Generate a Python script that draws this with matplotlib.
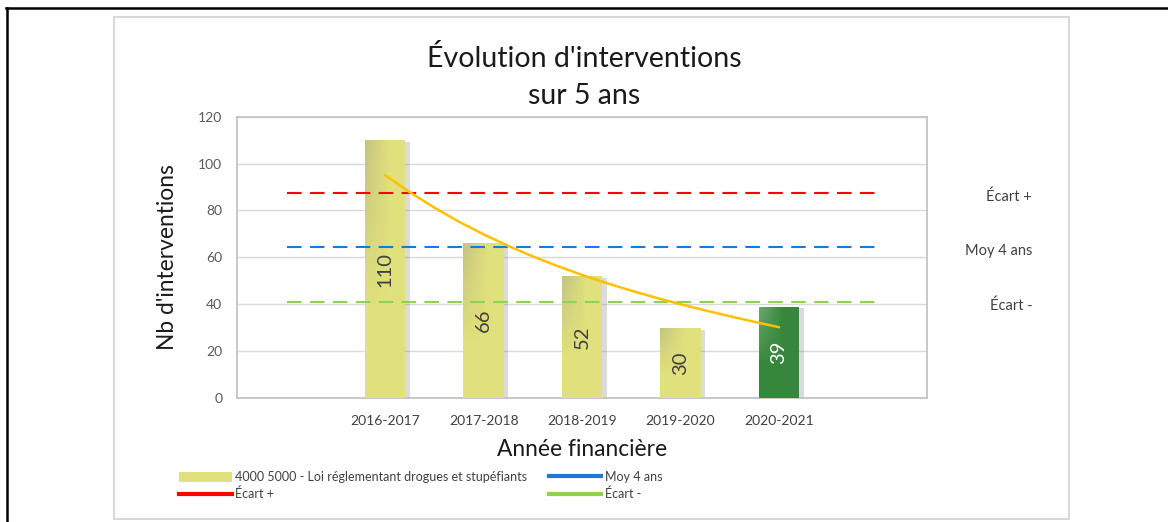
import matplotlib
matplotlib.use('Agg')
import matplotlib.pyplot as plt
import numpy as np
from matplotlib.patches import Rectangle, Patch
from matplotlib.lines import Line2D

plt.rcParams['font.family'] = ['Lato', 'DejaVu Sans']

# DONNEES
# -------
annees = ['', '2016-2017', '2017-2018', '2018-2019', '2019-2020', '2020-2021', '']
interventions = [110, 66, 52, 30, 39]
pos_barres = [1, 2, 3, 4, 5]
# valeurs de la courbe de tendance (pas de 0.25)
tendance_x = [1, 1.25, 1.5, 1.75, 2, 2.25, 2.5, 2.75, 3, 3.25, 3.5, 3.75, 4, 4.25, 4.5, 4.75, 5]
tendance_y = [95, 87.8, 81.2, 75.2, 69.8, 64.9, 60.4, 56.3, 52.5, 49.0, 45.8, 42.8, 40.0, 37.4, 34.9, 32.5, 30.2]
ecart_plus = 87.5
moy_4_ans = 64.5
ecart_moins = 41

jaune = '#E0E07C'
vert = '#36873B'
couleurs = [jaune, jaune, jaune, jaune, vert]

fig = plt.figure(figsize=(11.68, 5.22), dpi=100)
ax = fig.add_axes([0.2033, 0.2375, 0.5901, 0.539])

# cadre du graphique + bordure noire
fig.add_artist(Rectangle((114/1168, 3/522), 955/1168, 502/522, transform=fig.transFigure,
                         fill=False, edgecolor='#D9D9D9', lw=1.5))
fig.add_artist(Line2D([6/1168, 1], [1-7.5/522, 1-7.5/522], transform=fig.transFigure, color='black', lw=1.8))
fig.add_artist(Line2D([7/1168, 7/1168], [0, 1-7.5/522], transform=fig.transFigure, color='black', lw=1.8))

# ombre des barres
larg = 0.41
ax.bar([p + 0.045 for p in pos_barres], [v - 0.8 for v in interventions], width=larg,
       color='#8a8a8a', alpha=0.3, zorder=2, linewidth=0)
barres = ax.bar(pos_barres, interventions, width=larg, color=couleurs, zorder=3, linewidth=0)

# degradé en haut à gauche
u = np.linspace(0, 1, 40)
v = np.linspace(0, 1, 80)
U, V = np.meshgrid(u, v)
alpha = 0.4 * np.clip(1 - U / 0.6, 0, 1) * np.clip(1 - V / 0.65, 0, 1)
for b, c in zip(barres, couleurs):
    grad = np.zeros((80, 40, 4))
    if c == vert:
        grad[..., :3] = [1, 1, 1]
        a = alpha * 0.7
    else:
        grad[..., :3] = [0.6, 0.6, 0.55]
        a = alpha
    grad[..., 3] = a
    x0 = b.get_x()
    im = ax.imshow(grad, extent=[x0, x0 + b.get_width(), 0, b.get_height()],
                   origin='upper', aspect='auto', zorder=4, interpolation='bilinear')
    im.set_clip_path(b)

for p, val, c in zip(pos_barres, interventions, couleurs):
    ax.text(p, val / 2, str(val), rotation=90, ha='center', va='center', fontsize=14.5,
            color='white' if c == vert else '#404040', zorder=6)

# lignes de référence
ax.hlines(ecart_plus, 0, len(annees) - 1, colors='#FF0000', lw=1.5, linestyles=(0, (7, 4)), zorder=5)
ax.hlines(moy_4_ans, 0, len(annees) - 1, colors='#1F78D8', lw=1.5, linestyles=(0, (7, 4)), zorder=5)
ax.hlines(ecart_moins, 0, len(annees) - 1, colors='#92D050', lw=1.5, linestyles=(0, (7, 4)), zorder=5)

# courbe de tendance
ax.plot(tendance_x, tendance_y, color='#FFC000', lw=1.8, zorder=7, solid_capstyle='round')

ax.set_xlim(-0.5, len(annees) - 0.5)
ax.set_ylim(0, 120)
ax.set_yticks(range(0, 121, 20))
ax.set_xticks(range(len(annees)))
ax.set_xticklabels(annees)
ax.tick_params(length=0)
ax.tick_params(axis='y', pad=11, labelsize=10, labelcolor='#595959')
ax.tick_params(axis='x', pad=12, labelsize=10, labelcolor='#404040')
ax.grid(axis='y', color='#D9D9D9', lw=1, zorder=0)
ax.set_axisbelow(True)
for s in ax.spines.values():
    s.set_color('#BFBFBF')
    s.set_linewidth(1.2)

ax.set_ylabel("Nb d'interventions", fontsize=16.4, color='#1a1a1a')
ax.yaxis.set_label_coords(-0.0864, 0.5)
ax.set_xlabel('Année financière', fontsize=16.4, color='#1a1a1a')
ax.xaxis.set_label_coords(0.5, -0.145)

fig.text(0.5, 1 - 77/522, "Évolution d'interventions\nsur 5 ans", ha='center', va='center',
         fontsize=20.5, color='#1a1a1a', linespacing=1.5)

for txt, val in [('Écart +', ecart_plus), ('Moy 4 ans', moy_4_ans), ('Écart -', ecart_moins)]:
    ax.annotate(txt, xy=(1.153, val), xycoords=('axes fraction', 'data'), xytext=(0, -3),
                textcoords='offset points', ha='right', va='center', fontsize=10.5, color='#404040',
                annotation_clip=False)

poignees = [Patch(facecolor=jaune, edgecolor='none'),
            Line2D([], [], color='#FF0000', lw=3),
            Line2D([], [], color='#1F78D8', lw=3),
            Line2D([], [], color='#92D050', lw=3)]
etiquettes = ['4000 5000 - Loi réglementant drogues et stupéfiants', 'Écart +', 'Moy 4 ans', 'Écart -']
fig.legend(poignees, etiquettes, ncol=2, loc='upper left', bbox_to_anchor=(179/1168, 1 - 471/522),
           frameon=False, fontsize=9, handlelength=4.2, handleheight=0.9, handletextpad=0.3,
           columnspacing=1.7, labelspacing=0.4, borderpad=0, borderaxespad=0, labelcolor='#404040')

fig.savefig('out.png', dpi=100)
